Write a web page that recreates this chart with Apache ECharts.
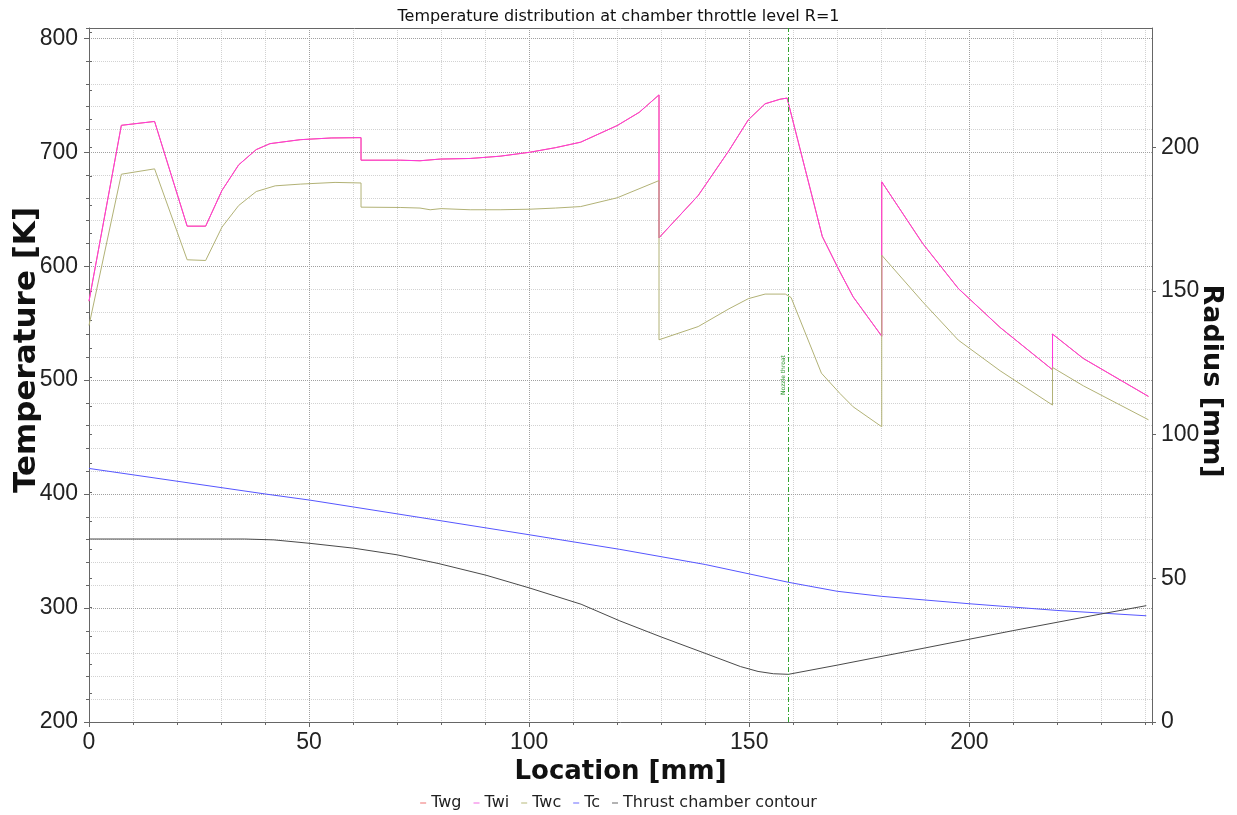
<!DOCTYPE html>
<html><head><meta charset="utf-8">
<script src="https://cdn.jsdelivr.net/npm/echarts@6/dist/echarts.min.js"></script>
<style>html,body{margin:0;padding:0;background:#fff}#c{width:1237px;height:815px}</style>
</head><body><div id="c"></div>
<script>
// ---- data ----
const twiX = [0,7.35,14.9,22.3,26.5,30.2,34.0,38.0,41.1,48.0,55.0,61.8,61.8,70.7,75.2,79.8,86.6,93.4,100.2,106.0,111.7,120.0,125.0,129.5,129.5,138.4,145.4,149.8,153.6,157.0,158.6,166.6,170.6,173.6,180.1,180.1,189.4,197.5,207.0,218.9,218.9,225.9,240.7];
const twiY = [569.3,723.6,727.0,635.1,635.1,666.4,688.9,702.3,707.5,711.0,712.5,712.8,693.0,693.0,692.5,694.0,694.5,696.5,700.0,704.0,708.8,723.4,735.0,750.3,624.9,662.0,701.5,728.5,742.5,746.5,747.5,626.0,595.0,573.1,538.6,674.0,619.9,580.4,546.2,509.1,540.4,519.0,485.7];
// Twg lies under Twi in the picture
const twgX = [0,7.35,14.9,22.3,26.5,30.2,34.0,38.0,41.1,48.0,55.0,61.8,61.8,70.7,75.2,79.8,86.6,93.4,100.2,106.0,111.7,120.0,125.0,129.5,129.5,138.4,145.4,149.8,153.6,157.0,158.6,166.6,170.6,173.6,180.1,180.1,189.4,197.5,207.0,218.9,218.9,225.9,240.7];
const twgY = [569.3,723.6,727.0,635.1,635.1,666.4,688.9,702.3,707.5,711.0,712.5,712.8,693.0,693.0,692.5,694.0,694.5,696.5,700.0,704.0,708.8,723.4,735.0,750.3,624.9,662.0,701.5,728.5,742.5,746.5,747.5,626.0,595.0,573.1,538.6,674.0,619.9,580.4,546.2,509.1,540.4,519.0,485.7];
const twcX = [0,7.35,14.9,22.3,26.5,30.2,34.0,38.0,42.3,48.0,55.9,61.8,61.8,70.7,75.2,77.5,80.0,86.6,93.4,100.2,106.0,111.7,120.0,129.5,129.5,138.4,145.4,149.8,153.6,158.2,159.5,166.4,170.6,173.6,180.1,180.1,189.4,197.5,207.0,218.9,218.9,225.9,240.7];
const twcY = [548.0,680.7,685.4,605.6,605.0,634.2,653.2,665.5,670.5,672.0,673.5,673.0,651.8,651.5,651.0,649.5,650.5,649.5,649.5,650.0,651.0,652.3,660.0,675.1,535.4,547.0,562.6,571.5,575.5,575.5,572.5,506.1,488.3,476.6,459.1,609.6,568.7,535.1,508.2,478.1,511.1,495.0,465.2];
const tcX = [0,40.2,50.2,80.1,100.2,120.6,140.0,158.9,170.0,180.0,199.9,219.9,240.2];
const tcY = [422.5,400.0,394.7,376.5,364.2,351.5,338.2,322.6,314.7,310.3,303.8,297.9,293.2];
const contourX = [0,35.4,42.0,50.2,60.2,70.0,79.3,90.2,100.2,111.8,120.6,130.0,140.0,148.0,152.0,155.5,158.9,170.0,190.0,209.9,229.9,240.2];
const contourR = [63.7,63.7,63.4,62.2,60.5,58.2,55.2,51.1,46.6,41.0,35.2,29.6,23.9,19.3,17.6,16.8,16.6,19.8,25.8,31.8,37.6,40.5];
const throatX = 158.9;
const throatLabel = 'Nozzle throat';
const seriesNames = ['Twg','Twi','Twc','Tc','Thrust chamber contour'];
const titleText = 'Temperature distribution at chamber throttle level R=1';
const xMin = 0, xMax = 241.5, xMajor = 50, xMinor = 10;
const tMin = 200, tMax = 809, tMajor = 100, tMinor = 20;
const rMin = 0, rMax = 241.6, rMajor = 50, rMinor = 10;

const zip = (a, b) => a.map((v, i) => [v, b[i]]);
const colors = ['#f07070', '#ff38dc', '#b2b276', '#5656ff', '#4a4a4a'];
const legendColors = ['#f4a0a0', '#f79ced', '#cfd0a6', '#9c9cff', '#9a9a9a'];
const throatColor = '#2fa52f';
const axisCol = '#666';
const tickFont = {fontFamily: 'Liberation Sans', fontSize: 23, color: '#222'};
const nameFont = {fontFamily: 'DejaVu Sans', fontWeight: 'bold', fontSize: 26, color: '#111'};

const chart = echarts.init(document.getElementById('c'), null, {renderer: 'canvas'});
const minorX = {type: 'value', min: xMin, max: xMax, interval: xMinor, position: 'bottom', z: 1,
  axisLine: {show: false}, axisTick: {show: true, length: 3, lineStyle: {color: axisCol}},
  axisLabel: {show: false}, splitLine: {show: true, lineStyle: {color: '#d2d2d2', type: 'dotted'}}};
const majorX = {type: 'value', min: xMin, max: xMax, interval: xMajor, position: 'bottom', z: 2,
  name: 'Location [mm]', nameLocation: 'middle', nameGap: 37, nameTextStyle: nameFont,
  axisLine: {show: true, onZero: false, lineStyle: {color: axisCol}},
  axisTick: {show: true, length: 5, lineStyle: {color: axisCol}},
  axisLabel: Object.assign({margin: 9, showMaxLabel: false}, tickFont),
  splitLine: {show: true, lineStyle: {color: '#a0a0a0', type: 'dotted'}}};
const topX = {type: 'value', min: xMin, max: xMax, position: 'top', z: 2,
  axisLine: {show: true, onZero: false, lineStyle: {color: axisCol}},
  axisTick: {show: false}, axisLabel: {show: false}, splitLine: {show: false}};
const minorT = {type: 'value', min: tMin, max: tMax, interval: tMinor, position: 'left', z: 1,
  axisLine: {show: false}, axisTick: {show: true, length: 3, lineStyle: {color: axisCol}},
  axisLabel: {show: false}, splitLine: {show: true, lineStyle: {color: '#d2d2d2', type: 'dotted'}}};
const majorT = {type: 'value', min: tMin, max: tMax, interval: tMajor, position: 'left', z: 2,
  name: 'Temperature [K]', nameLocation: 'middle', nameGap: 47, nameMoveOverlap: false,
  nameTextStyle: Object.assign({}, nameFont, {fontSize: 31, padding: [0, 0, 0, 50]}),
  axisLine: {show: true, onZero: false, lineStyle: {color: axisCol}},
  axisTick: {show: true, length: 5, lineStyle: {color: axisCol}},
  axisLabel: Object.assign({margin: 11, showMaxLabel: false}, tickFont),
  splitLine: {show: true, lineStyle: {color: '#a0a0a0', type: 'dotted'}}};
const majorR = {type: 'value', min: rMin, max: rMax, interval: rMajor, position: 'right', z: 2,
  name: 'Radius [mm]', nameLocation: 'middle', nameGap: 46, nameRotate: -90, nameMoveOverlap: false,
  nameTextStyle: Object.assign({}, nameFont, {fontSize: 27, padding: [0, 0, 0, 12]}),
  axisLine: {show: true, onZero: false, lineStyle: {color: axisCol}},
  axisTick: {show: true, length: 4, lineStyle: {color: axisCol}},
  axisLabel: Object.assign({margin: 9, showMaxLabel: false}, tickFont),
  splitLine: {show: false}};
const minorR = {type: 'value', min: rMin, max: rMax, interval: rMinor, position: 'right', z: 1,
  axisLine: {show: false}, axisTick: {show: true, length: 3, lineStyle: {color: axisCol}},
  axisLabel: {show: false}, splitLine: {show: false}};

function lineSeries(name, data, color, yIdx, extra) {
  return Object.assign({name, type: 'line', data, xAxisIndex: 1, yAxisIndex: yIdx,
    showSymbol: false, symbol: 'none', silent: true, animation: false,
    lineStyle: {color, width: 1}, itemStyle: {color}, emphasis: {disabled: true}}, extra || {});
}

chart.setOption({
  animation: false,
  backgroundColor: '#fff',
  title: {text: titleText, left: 'center', top: 4,
    textStyle: {fontFamily: 'DejaVu Sans', fontSize: 16, fontWeight: 'normal', color: '#111'}},
  legend: {top: 790, left: 'center', icon: 'rect', itemWidth: 6, itemHeight: 1.5, itemGap: 12,
    textStyle: {fontFamily: 'DejaVu Sans', fontSize: 16, color: '#222'},
    data: seriesNames.map((n, i) => ({name: n, itemStyle: {color: legendColors[i]}}))},
  grid: {left: 89, right: 85, top: 28, bottom: 93, containLabel: false, outerBoundsMode: 'none'},
  xAxis: [minorX, majorX, topX],
  yAxis: [minorT, majorT, majorR, minorR],
  series: [
    lineSeries(seriesNames[0], zip(twgX, twgY), colors[0], 1),
    lineSeries(seriesNames[1], zip(twiX, twiY), colors[1], 1),
    lineSeries(seriesNames[2], zip(twcX, twcY), colors[2], 1),
    lineSeries(seriesNames[3], zip(tcX, tcY), colors[3], 1),
    lineSeries(seriesNames[4], zip(contourX, contourR), colors[4], 2),
    lineSeries(throatLabel, [], throatColor, 1, {
      lineStyle: {color: throatColor, width: 1},
      markLine: {silent: true, symbol: 'none', animation: false,
        lineStyle: {color: throatColor, width: 1, type: [5, 2, 1, 2], opacity: 1},
        label: {show: true, formatter: throatLabel, position: 'insideMiddleTop', distance: 2,
          fontFamily: 'DejaVu Sans', fontSize: 6, color: '#2a942a'},
        data: [{xAxis: throatX, lineStyle: {color: throatColor}}]}})
  ]
});
</script></body></html>
